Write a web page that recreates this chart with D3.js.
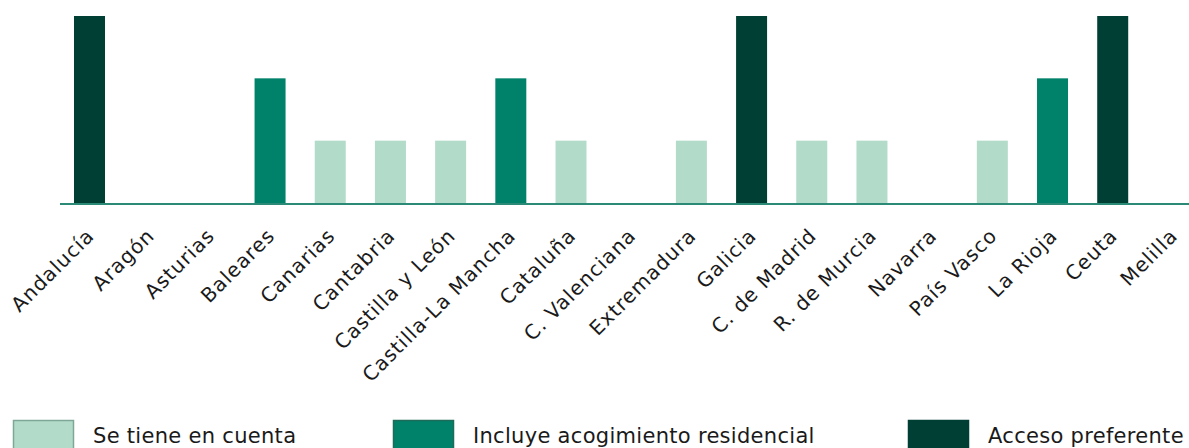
<!DOCTYPE html>
<html>
<head>
<meta charset="utf-8">
<script src="https://cdn.jsdelivr.net/npm/d3@7"></script>
<style>
  body { margin: 0; background: #fff; }
  #chart { width: 1189px; height: 448px; overflow: hidden; }
  text { font-family: "DejaVu Sans", "Open Sans", sans-serif; fill: #1a1a1a; }
</style>
</head>
<body>
<div id="chart"></div>
<script>
// regiones y nivel (0 = nada, 1 = se tiene en cuenta, 2 = acogimiento residencial, 3 = acceso preferente)
const regions = ["Andalucía", "Aragón", "Asturias", "Baleares", "Canarias", "Cantabria",
  "Castilla y León", "Castilla-La Mancha", "Cataluña", "C. Valenciana", "Extremadura",
  "Galicia", "C. de Madrid", "R. de Murcia", "Navarra", "País Vasco", "La Rioja", "Ceuta", "Melilla"];
const levels = [3, 0, 0, 2, 1, 1, 1, 2, 1, 0, 1, 3, 1, 1, 0, 1, 2, 3, 0];
const legendLabels = ["Se tiene en cuenta", "Incluye acogimiento residencial", "Acceso preferente"];

const data = regions.map(function(r, i) { return {region: r, level: levels[i]}; });

/*
  SVG
*/
const width = 1189;
const height = 448;
const margin = {top: 16, left: 59.4, right: -14, bottom: 243};

const canvas = d3.select("#chart")
  .append("svg")
  .attr("width", width)
  .attr("height", height);

/*
  SCALES
*/
const xScale = d3.scaleBand()
  .domain(regions)
  .range([margin.left, width - margin.right])
  .paddingInner(0.485)
  .paddingOuter(0.2425);

const yScale = d3.scaleLinear()
  .domain([0, 3])
  .range([height - margin.bottom - 2, margin.top]);

const colorScale = d3.scaleOrdinal()
  .domain([1, 2, 3])
  .range(["#b2dcc9", "#00826a", "#003f34"]);

/*
  BARS
*/
canvas.selectAll("rect.bar")
  .data(data.filter(function(d) { return d.level > 0; }))
  .enter()
  .append("rect")
    .attr("class", "bar")
    .attr("x", function(d) { return xScale(d.region); })
    .attr("y", function(d) { return yScale(d.level); })
    .attr("width", xScale.bandwidth())
    .attr("height", function(d) { return yScale(0) - yScale(d.level); })
    .attr("fill", function(d) { return colorScale(d.level); });

/*
  AXIS
*/
const baseY = yScale(0) + 1;
canvas.append("line")
  .attr("x1", 60)
  .attr("x2", width)
  .attr("y1", baseY)
  .attr("y2", baseY)
  .attr("stroke", "#2a8a76")
  .attr("stroke-width", 2);

canvas.selectAll("text.xlabel")
  .data(regions)
  .enter()
  .append("text")
    .attr("class", "xlabel")
    .attr("text-anchor", "end")
    .attr("transform", function(d) {
      return `translate(${xScale(d) + xScale.bandwidth() / 2 + 6},${baseY + 33}) rotate(-45)`;
    })
    .style("font-size", "20px")
    .style("letter-spacing", "1px")
    .text(function(d) { return d; });

/*
  LEGEND
*/
const legendX = [13, 393, 908];
const legend = canvas.selectAll("g.legend")
  .data(legendLabels)
  .enter()
  .append("g")
    .attr("class", "legend")
    .attr("transform", function(d, i) { return `translate(${legendX[i]},420)`; });

legend.append("rect")
  .attr("x", 0.5)
  .attr("y", 0.5)
  .attr("width", 60)
  .attr("height", 32)
  .attr("fill", function(d, i) { return colorScale(i + 1); })
  .attr("stroke", function(d, i) { return i === 0 ? "#7fa797" : i === 1 ? "#1d6b58" : "#003f34"; })
  .attr("stroke-width", 1.5);

legend.append("text")
  .attr("x", 80)
  .attr("y", 23)
  .style("font-size", "21px")
  .style("letter-spacing", "0.3px")
  .text(function(d) { return d; });
</script>
</body>
</html>
